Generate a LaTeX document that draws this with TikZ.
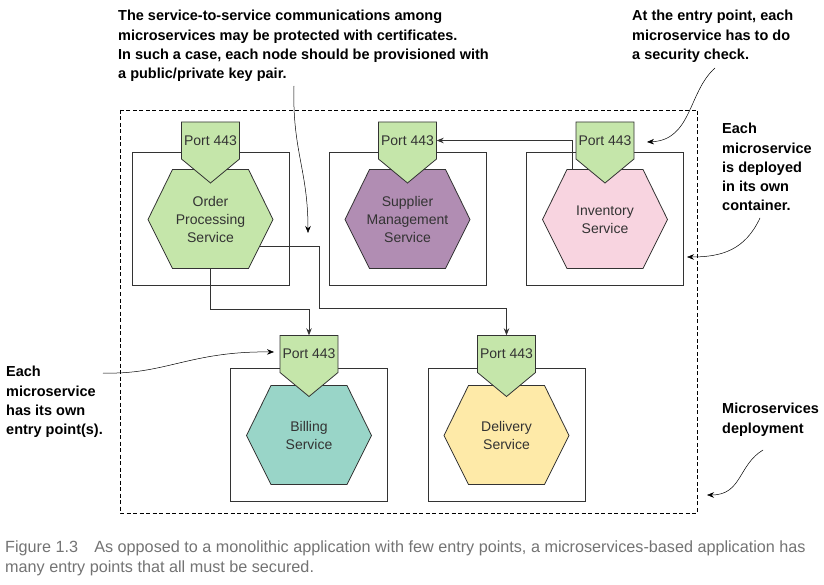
\documentclass[tikz,border=0pt]{standalone}
\usepackage{fontspec}
\setmainfont{Liberation Sans}
\usetikzlibrary{arrows.meta}
\definecolor{portgreen}{HTML}{C5E6AA}
\definecolor{supplierpurple}{HTML}{B18DB3}
\definecolor{inventorypink}{HTML}{F8D4E0}
\definecolor{billingteal}{HTML}{99D5C8}
\definecolor{deliveryyellow}{HTML}{FEEAA8}
\definecolor{linegray}{HTML}{333333}
\definecolor{captiongray}{RGB}{115,115,115}

\begin{document}
\begin{tikzpicture}[x=1pt,y=-1pt,
  box/.style={draw=linegray,line width=1pt},
  hexa/.style={draw=linegray,line width=0.8pt},
  svc/.style={minimum width=125pt,minimum height=99pt,inner sep=0pt,align=center,
    text=linegray,font=\fontsize{14}{18}\selectfont},
  portbox/.style={minimum width=58pt,minimum height=37pt,inner sep=0pt,
    text=linegray,font=\fontsize{14}{18}\selectfont},
  flow/.style={draw=linegray,line width=0.8pt,-{Stealth[length=7pt,width=5.5pt]}},
  note/.style={anchor=north west,inner sep=0pt,align=left,
    font=\bfseries\fontsize{14.5}{19.3}\selectfont},
  callout/.style={line width=0.5pt,-{Stealth[length=7pt,width=5.5pt]}}]
\useasboundingbox (0,0) rectangle (824,585);
%\draw (0,0) to[grid with coordinates] (824,585);
% microservices deployment
\draw[dashed,dash pattern=on 4pt off 2.5pt,line width=0.8pt] (120,110) rectangle (697,513);
% containers, services and their entry points
\foreach \nm/\cx/\cy/\py/\col/\txt in {
    order/210.5/219.5/140.5/portgreen/{Order\\Processing\\Service},
    supplier/407.5/219.5/140.5/supplierpurple/{Supplier\\Management\\Service},
    inventory/605/219.5/140.5/inventorypink/{Inventory\\Service},
    billing/309/435.5/354/billingteal/{Billing\\Service},
    delivery/506.5/435.5/354/deliveryyellow/{Delivery\\Service}}{
  \draw[box] (\cx-78.5,\cy-67) rectangle (\cx+78.5,\cy+66);
  \draw[hexa,fill=\col] (\cx-62.5,\cy) -- (\cx-38,\cy-50) -- (\cx+38,\cy-50)
    -- (\cx+62.5,\cy) -- (\cx+38,\cy+49) -- (\cx-38,\cy+49) -- cycle;
  \node[svc] (\nm) at (\cx,\cy) {\txt};
  \draw[hexa,fill=portgreen] (\cx-29,\py-18.5) -- (\cx+29,\py-18.5) -- (\cx+29,\py+18.5)
    -- (\cx,\py+42.5) -- (\cx-29,\py+18.5) -- cycle;
  \node[portbox] (\nm-port) at (\cx,\py) {Port 443};
}
% service-to-service calls
\coordinate (orderout) at (259.5,246);
\coordinate (turn) at (319,308);
\coordinate (invtap) at (572,169.5);
\draw[flow] (order.south) -- ++(0,40) -| (billing-port.north);
\draw[flow] (orderout) -| (turn) -| (delivery-port.north);
\draw[flow] (invtap) |- (supplier-port.east);
% annotations
\node[note] (certnote) at (118,10) {The service-to-service communications among\\microservices may be protected with certificates.\\In such a case, each node should be provisioned with\\a public/private key pair.};
\node[note] (checknote) at (632,10) {At the entry point, each\\microservice has to do\\a security check.};
\node[note] (containernote) at (722,123) {Each\\microservice\\is deployed\\in its own\\container.};
\node[note] (entrynote) at (6,366) {Each\\microservice\\has its own\\entry point(s).};
\node[note] (deploynote) at (722,403) {Microservices\\deployment};
\coordinate (certtip) at (308,233);
\coordinate (checktip) at (647,142);
\coordinate (containertip) at (687,257);
\coordinate (entrytip) at (274,352);
\coordinate (deploytip) at (707,495);
\draw[callout] (294,86) .. controls (292,150) and (308,170) .. (certtip);
\draw[callout] (715,68) .. controls (688,92) and (692,140) .. (checktip);
\draw[callout] (760,218) .. controls (745,250) and (722,257) .. (containertip);
\draw[callout] (103,373) .. controls (165,375) and (190,351) .. (entrytip);
\draw[callout] (763,450) .. controls (738,465) and (742,495) .. (deploytip);
% caption
\node[anchor=north west,inner sep=0pt,align=left,text=captiongray,
  font=\fontsize{16.2}{20}\selectfont] (caption) at (5,541)
  {Figure 1.3\quad As opposed to a monolithic application with few entry points, a microservices-based application has\\many entry points that all must be secured.};
\end{tikzpicture}
\end{document}
